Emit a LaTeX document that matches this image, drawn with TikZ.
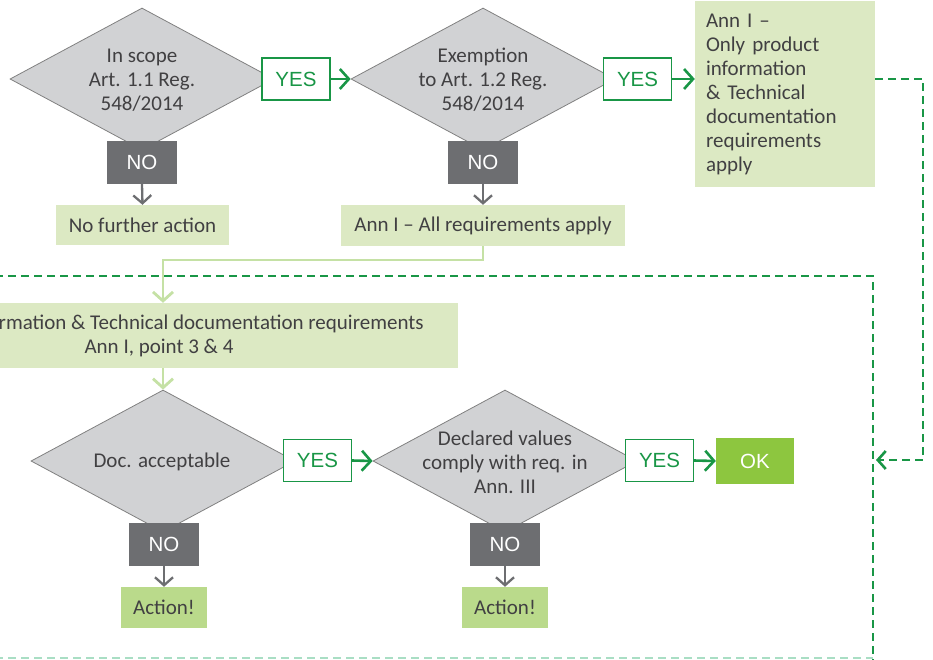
\documentclass[tikz,border=0pt]{standalone}
\usepackage{fontspec}
\setmainfont{Carlito}
\newfontfamily\arialf{Liberation Sans}
\usetikzlibrary{shapes.geometric,arrows.meta}
\definecolor{txt}{HTML}{414042}
\definecolor{diafill}{HTML}{D1D2D4}
\definecolor{diadraw}{HTML}{808080}
\definecolor{nogray}{HTML}{6D6E71}
\definecolor{ygreen}{HTML}{199646}
\definecolor{lgfill}{HTML}{DCE9C3}
\definecolor{lgline}{HTML}{C5E1A5}
\definecolor{actfill}{HTML}{BADA8B}
\definecolor{okfill}{HTML}{8DC63F}
\definecolor{faint}{HTML}{A9DEC4}
\begin{document}
\begin{tikzpicture}[x=1pt,y=-1pt,
  dia/.style={diamond, draw=diadraw, line width=0.8pt, fill=diafill, minimum width=264pt, minimum height=142pt, inner sep=0pt},
  dtext/.style={text=txt, font=\fontsize{21}{24}\selectfont, align=center, inner sep=0pt},
  yesbox/.style={draw=ygreen, line width=1.2pt, fill=white, text=ygreen, font=\arialf\fontsize{20.5}{24}\selectfont, minimum width=68pt, minimum height=42pt, inner sep=0pt},
  nobox/.style={fill=nogray, text=white, font=\arialf\fontsize{20.5}{24}\selectfont, minimum width=70pt, minimum height=43pt, inner sep=0pt},
  lbox/.style={fill=lgfill, text=txt, font=\fontsize{21}{24}\selectfont, inner sep=0pt},
  actbox/.style={fill=actfill, text=txt, font=\fontsize{21}{24}\selectfont, minimum width=86pt, minimum height=41pt, inner sep=0pt},
  okbox/.style={fill=okfill, text=white, font=\arialf\fontsize{20.5}{24}\selectfont, minimum width=78pt, minimum height=46pt, inner sep=0pt},
  garrow/.style={draw=nogray, line width=2.3pt, -{Straight Barb[length=8pt,width=18pt]}},
  yarrow/.style={draw=ygreen, line width=2.6pt, -{Straight Barb[length=9pt,width=20pt]}},
  larrow/.style={draw=lgline, line width=2.8pt, -{Straight Barb[length=9pt,width=20pt]}},
  dashln/.style={draw=ygreen, line width=2.6pt, dash pattern=on 8pt off 5pt},
  faintdash/.style={draw=faint, line width=1.5pt, dash pattern=on 8pt off 5pt}
]
\useasboundingbox (0,0) rectangle (933,659);
\clip (0,0) rectangle (933,659);

% dashed frame and return path
\coordinate (fa) at (-5,276);
\coordinate (fb) at (873,276);
\coordinate (fc) at (873,665);
\coordinate (fd) at (-5,658);
\coordinate (fe) at (873,658);
\draw[dashln] (fa) -- (fb) -- (fc);
\draw[faintdash] (fd) -- (fe);

% diamonds
\node[dia] (d1) at (142,79) {};
\node[dia] (d2) at (483,79) {};
\node[dia] (d3) at (163,461) {};
\node[dia] (d4) at (505,461) {};
\node[dtext] (t1) at (142,80) {In scope\\Art. 1.1 Reg.\\548/2014};
\node[dtext] (t2) at (483,80) {Exemption\\to Art. 1.2 Reg.\\548/2014};
\node[dtext] (t3) at (162,462) {Doc. acceptable};
\node[dtext] (t4) at (505,462) {Declared values\\comply with req. in\\Ann. III};

% YES boxes
\node[yesbox] (y1) at (296,79) {YES};
\node[yesbox] (y2) at (637.5,79) {YES};
\node[yesbox] (y3) at (317.5,460.5) {YES};
\node[yesbox] (y4) at (659.5,460.5) {YES};

% NO boxes
\node[nobox] (n1) at (142,162.5) {NO};
\node[nobox] (n2) at (483,162.5) {NO};
\node[nobox] (n3) at (164,544.5) {NO};
\node[nobox] (n4) at (505,544.5) {NO};

% result boxes
\node[lbox, minimum width=173pt, minimum height=40pt] (nfa) at (142.5,225) {No further action};
\node[lbox, minimum width=284pt, minimum height=41pt] (aall) at (483,225.5) {Ann I -- All requirements apply};
\node[lbox, minimum width=180pt, minimum height=186pt, text width=158pt, align=left] (aonly) at (785,94) {Ann I --\\Only product\\information\\\& Technical\\documentation\\requirements\\apply};
\node[lbox, minimum width=598pt, minimum height=65pt, align=center] (big) at (159,335.5) {Product information \& Technical documentation requirements\\Ann I, point 3 \& 4};
\node[actbox] (a3) at (164,607.5) {Action!};
\node[actbox] (a4) at (505,607.5) {Action!};
\node[okbox] (ok) at (755,461) {OK};

% connectors
\draw[yarrow] (y1.east) -- (d2.west);
\draw[yarrow] (y2.east) -- (y2.east -| aonly.west);
\draw[yarrow] (y3.east) -- (d4.west);
\draw[yarrow] (y4.east) -- (ok.west);
\draw[garrow] (n1.south) -- (nfa.north);
\draw[garrow] (n2.south) -- (aall.north);
\draw[garrow] (n3.south) -- (a3.north);
\draw[garrow] (n4.south) -- (a4.north);

\coordinate (j1) at (163,260);
\draw[larrow] (aall.south) |- (j1) -- (j1 |- big.north);
\draw[larrow] (big.south -| d3.north) -- (d3.north);

\coordinate (r1) at (923,79);
\coordinate (r2) at (923,460);
\coordinate (fr) at (876,460);
\draw[dashln, -{Straight Barb[length=8pt,width=18pt]}] (aonly.east |- r1) -- (r1) -- (r2) -- (fr);
\end{tikzpicture}
\end{document}
